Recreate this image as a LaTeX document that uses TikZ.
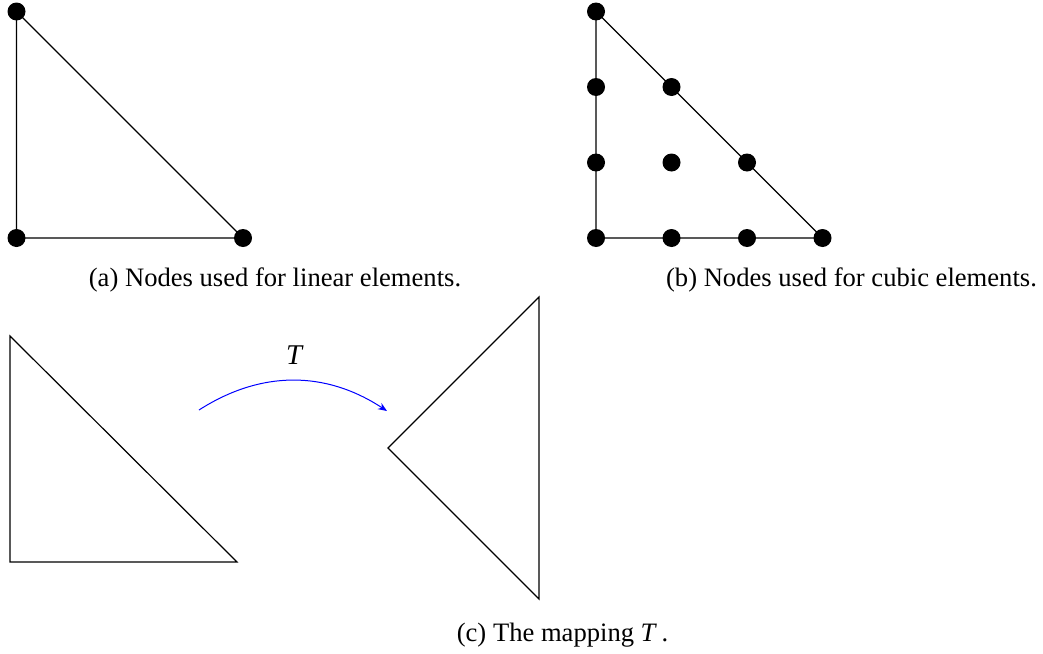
\documentclass[tikz,border=0pt]{standalone}
\usepackage{fontspec}
\setmainfont{Liberation Serif}
\usetikzlibrary{arrows.meta}
\tikzset{edge/.style={line width=0.6pt},
 fenode/.style={circle,fill=black,inner sep=0pt,minimum size=9pt},
 subcap/.style={anchor=base,font=\fontsize{13.3}{16}\selectfont},
 mapping/.style={blue,line width=0.5pt,-{Stealth[length=4.5pt,width=3.6pt]}}}
\begin{document}
\begin{tikzpicture}[x=0.5pt,y=-0.5pt]
\useasboundingbox (0,0) rectangle (1043,653);
\begin{scope}[shift={(16.5,238)}]
\node[fenode] (a1) at (0,0) {};
\node[fenode] (a2) at (226.5,0) {};
\node[fenode] (a3) at (0,-226.5) {};
\draw[edge] (a1.center) -- (a2.center) -- (a3.center) -- cycle;
\end{scope}
\node[subcap] (capa) at (275,286) {(a) Nodes used for linear elements.};
\begin{scope}[shift={(596,238)}]
\foreach \i/\j in {0/0,1/0,2/0,3/0,0/1,1/1,2/1,0/2,1/2,0/3}
 \node[fenode] (b\i\j) at (75.5*\i,-75.5*\j) {};
\draw[edge] (b00.center) -- (b30.center) -- (b03.center) -- cycle;
\end{scope}
\node[subcap] (capb) at (851.5,286) {(b) Nodes used for cubic elements.};
\coordinate (c1) at (10,336);
\coordinate (c2) at (10,562);
\coordinate (c3) at (237,562);
\draw[edge] (c1) -- (c2) -- (c3) -- cycle;
\coordinate (d1) at (539,297);
\coordinate (d2) at (388,448);
\coordinate (d3) at (539,599);
\draw[edge] (d1) -- (d2) -- (d3) -- cycle;
\coordinate (src) at (199,410);
\coordinate (dst) at (387,411);
\draw[mapping] (src) to[bend left=33] (dst);
\node[anchor=base,font=\fontsize{14.3}{16}\selectfont] (tlab) at (295,364) {\textit{T}};
\node[subcap] (capc) at (562.5,641) {(c) The mapping \textit{T}\,.};
\end{tikzpicture}
\end{document}
